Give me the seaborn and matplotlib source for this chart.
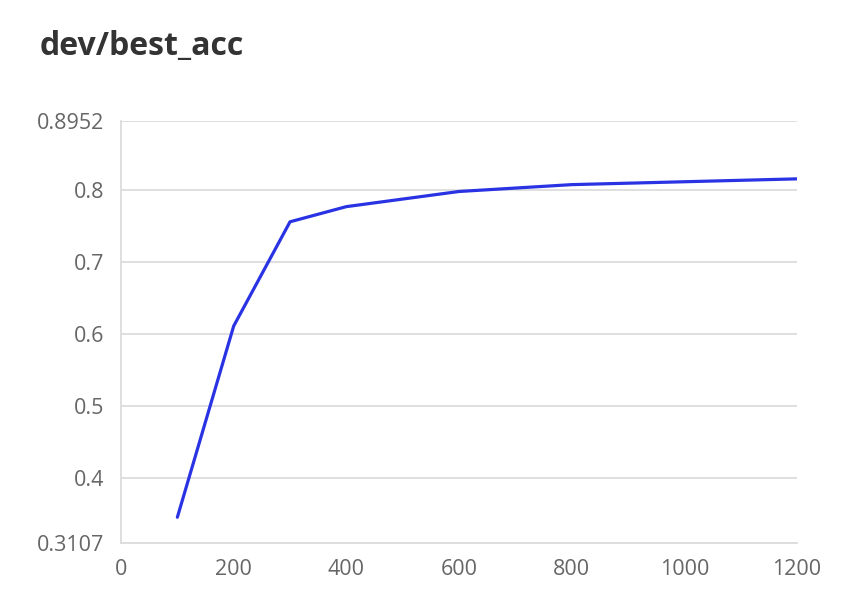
import seaborn as sns
import matplotlib.pyplot as plt
import pandas as pd

steps = [100, 200, 300, 400, 600, 800, 1200]
best_acc = [0.346, 0.611, 0.7555, 0.7765, 0.7975, 0.807, 0.815]
y_ticks = [0.3107, 0.4, 0.5, 0.6, 0.7, 0.8, 0.8952]
y_labels = ["0.3107", "0.4", "0.5", "0.6", "0.7", "0.8", "0.8952"]
x_ticks = [0, 200, 400, 600, 800, 1000, 1200]

df = pd.DataFrame({"step": steps, "best_acc": best_acc})

sns.set_style("white")
plt.rcParams['font.family'] = ['Open Sans', 'DejaVu Sans']

fig = plt.figure(figsize=(8.56, 6.02), dpi=100)
ax = fig.add_axes([0.1414, 0.0985, 0.7896, 0.7005])

sns.lineplot(data=df, x="step", y="best_acc", ax=ax, color="#2a33e3", linewidth=2.3)

ax.set_xlim(0, 1200)
ax.set_ylim(0.3107, 0.8952)
ax.set_xticks(x_ticks)
ax.set_yticks(y_ticks)
ax.set_yticklabels(y_labels)
ax.set_xlabel("")
ax.set_ylabel("")

ax.grid(axis="y", color="#dcdcdc", linewidth=1.3)
ax.set_axisbelow(True)
for side in ["top", "right"]:
    ax.spines[side].set_visible(False)
for side in ["left", "bottom"]:
    ax.spines[side].set_color("#dcdcdc")
    ax.spines[side].set_linewidth(1.3)
ax.tick_params(axis="both", length=0, labelsize=15.5, labelcolor="#666666")
ax.tick_params(axis="y", pad=12)
ax.tick_params(axis="x", pad=12)

fig.text(0.046, 0.922, "dev/best_acc", fontsize=23, fontweight="bold",
         color="#333333", va="center", ha="left")

fig.savefig("out.png", dpi=100)
